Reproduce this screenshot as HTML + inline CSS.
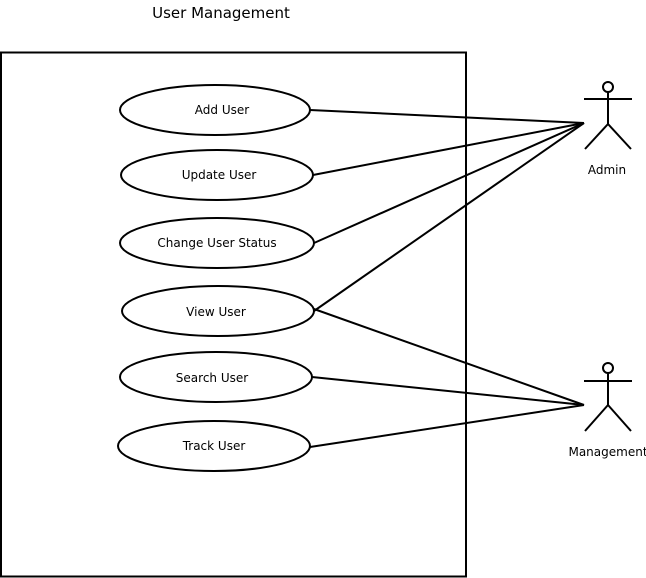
<!DOCTYPE html>
<html><head><meta charset="utf-8"><style>
html,body{margin:0;padding:0;background:#fff;}
svg{display:block;}
text{font-family:"DejaVu Sans","Liberation Sans",sans-serif;fill:#000;}
</style></head><body>
<svg width="646" height="578" viewBox="0 0 646 578" xmlns="http://www.w3.org/2000/svg">
<text x="221" y="18" font-size="15" text-anchor="middle">User Management</text>
<rect x="1" y="52.5" width="465" height="524" fill="none" stroke="#000" stroke-width="2"/>
<g fill="#fff" stroke="#000" stroke-width="2">
<ellipse cx="215" cy="110" rx="95" ry="25"/>
<ellipse cx="217" cy="175" rx="96" ry="25"/>
<ellipse cx="217" cy="243" rx="97" ry="25"/>
<ellipse cx="218" cy="311" rx="96" ry="25"/>
<ellipse cx="216" cy="377" rx="96" ry="25"/>
<ellipse cx="214" cy="446" rx="96" ry="25"/>
</g>
<g stroke="#000" stroke-width="2" fill="none">
<line x1="310" y1="110" x2="584" y2="123"/>
<line x1="313" y1="175" x2="584" y2="123"/>
<line x1="314" y1="243" x2="584" y2="123"/>
<line x1="314" y1="311" x2="584" y2="123"/>
<line x1="314" y1="309" x2="584" y2="405"/>
<line x1="312" y1="377" x2="584" y2="405"/>
<line x1="310" y1="447" x2="584" y2="405"/>
<circle cx="608" cy="87" r="5"/>
<line x1="584" y1="99" x2="632" y2="99"/>
<line x1="608" y1="92" x2="608" y2="124"/>
<line x1="608" y1="124" x2="585" y2="149"/>
<line x1="608" y1="124" x2="631" y2="149"/>
<circle cx="608" cy="368" r="5"/>
<line x1="584" y1="381" x2="632" y2="381"/>
<line x1="608" y1="373" x2="608" y2="405"/>
<line x1="608" y1="405" x2="585" y2="431"/>
<line x1="608" y1="405" x2="631" y2="431"/>
</g>
<g font-size="12" text-anchor="middle">
<text x="222" y="114">Add User</text>
<text x="219" y="179">Update User</text>
<text x="217" y="247">Change User Status</text>
<text x="216" y="316">View User</text>
<text x="212" y="382">Search User</text>
<text x="214" y="450">Track User</text>
<text x="607" y="174">Admin</text>
<text x="608" y="456">Management</text>
</g>
</svg>
</body></html>
